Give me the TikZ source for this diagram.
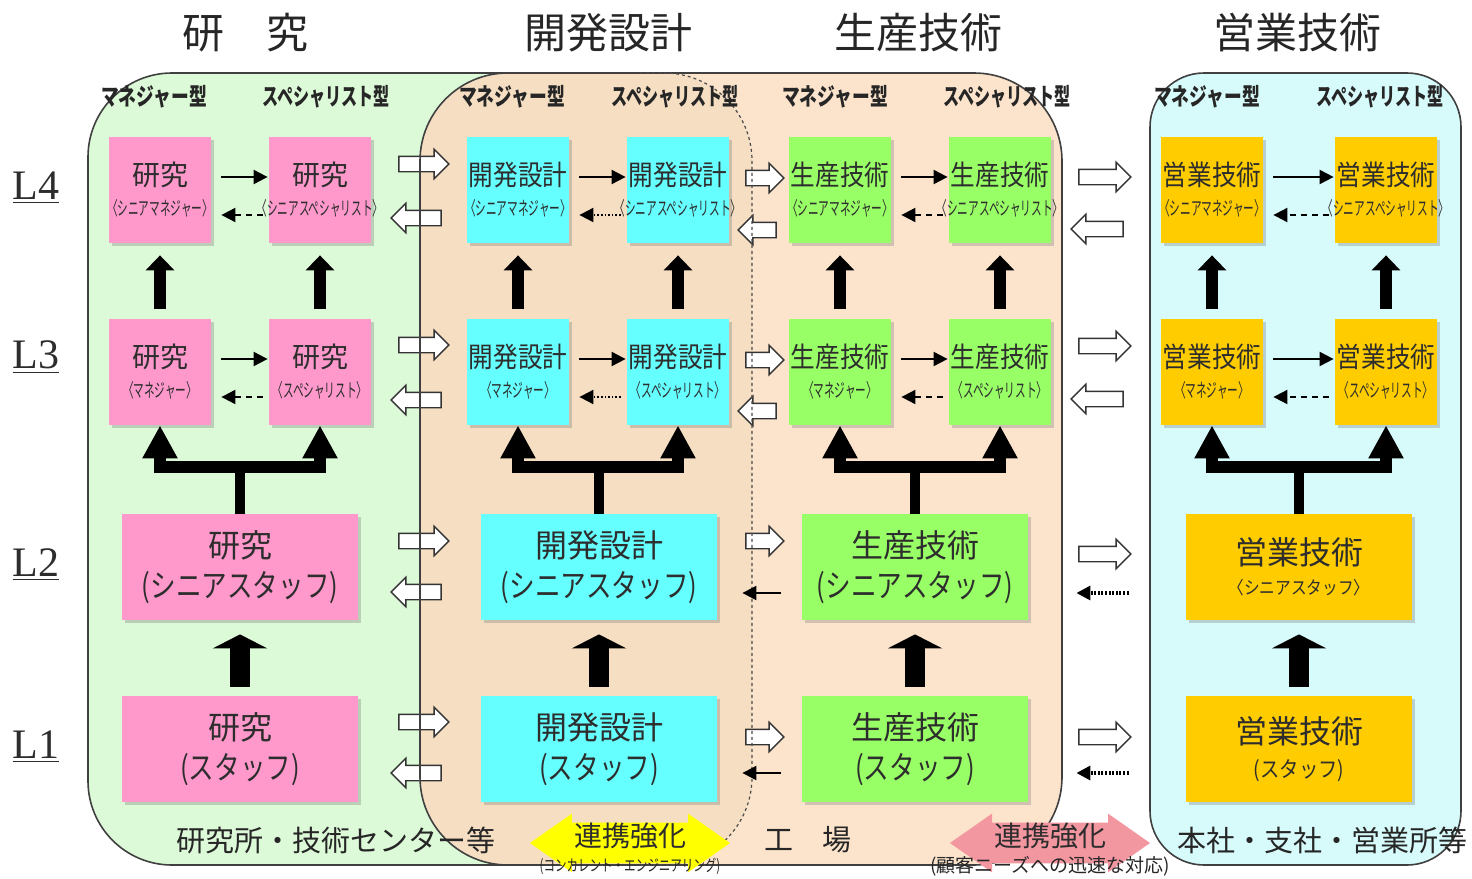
\documentclass[tikz,border=0pt]{standalone}
\usepackage{fontspec}
\usepackage{graphicx}
\newfontfamily\jp{Noto Sans CJK JP}
\newfontfamily\tms{Liberation Serif}
\usetikzlibrary{positioning,calc,arrows.meta,shapes.arrows,shadows}

\definecolor{kenbg}{RGB}{220,250,215}
\definecolor{kojobg}{RGB}{252,228,204}
\definecolor{kaibg}{RGB}{245,222,194}
\definecolor{eigbg}{RGB}{215,250,250}
\definecolor{kenfill}{RGB}{255,153,204}
\definecolor{kaifill}{RGB}{102,255,255}
\definecolor{seifill}{RGB}{153,255,102}
\definecolor{eifill}{RGB}{255,204,0}
\definecolor{txt}{RGB}{45,45,45}
\definecolor{coopy}{RGB}{255,255,0}
\definecolor{coopp}{RGB}{242,150,160}

\newcommand{\boxmain}[2]{{\fontsize{14pt}{15pt}\selectfont\scalebox{#1}[1]{#2}}}
\newcommand{\boxsub}[1]{\makebox[0pt]{\scalebox{0.56}[1]{#1}}}
\newcommand{\bigsub}[1]{\scalebox{0.8}[1]{#1}}

\tikzset{
  region/.style={draw=black!75,line width=0.8pt},
  devline/.style={draw=black!70,line width=0.6pt,dash pattern=on 1.5pt off 1.5pt},
  head/.style={font=\jp\fontsize{21pt}{21pt}\selectfont,text=black!85,inner sep=0pt},
  typelbl/.style={font=\jp\bfseries\fontsize{12pt}{12pt}\selectfont,text=black!85,inner sep=0pt},
  lvl/.style={font=\tms\fontsize{21pt}{21pt}\selectfont,text=txt,inner sep=0pt},
  smallbox/.style={minimum width=51pt,minimum height=53pt,inner sep=0pt,align=center,text=txt,
    font=\jp\fontsize{9.5pt}{15pt}\selectfont,
    drop shadow={shadow xshift=1.3pt,shadow yshift=-1.3pt,opacity=0.35}},
  bigbox/.style={smallbox,minimum width=118pt,font=\jp\fontsize{16pt}{20pt}\selectfont},
  thinarr/.style={line width=1pt,-{Triangle[width=7pt,length=7pt]}},
  backdash/.style={dash pattern=on 3pt off 2.5pt},
  backdot/.style={dash pattern=on 0.8pt off 1pt},
  dotarr/.style={line width=1.6pt,dash pattern=on 1pt off 0.8pt},
  uparr/.style={line width=6pt,-{Triangle[width=14pt,length=7.5pt]}},
  stem/.style={line width=5pt},
  fork/.style={line width=6pt,-{Triangle[width=16.5pt,length=16.5pt]}},
  blockarr/.style={line width=10pt,-{Triangle[width=27pt,length=7pt]}},
  hollow/.style={single arrow,draw=black!80,fill=white,line width=0.7pt,
    inner xsep=0pt,inner ysep=3.5pt,single arrow head extend=3.5pt},
  coop/.style={double arrow,draw=none,minimum height=100pt,inner xsep=0pt,inner ysep=10pt,
    double arrow head extend=4.5pt,double arrow tip angle=70},
  cooptxt/.style={font=\jp\fontsize{14pt}{14pt}\selectfont,text=txt,inner sep=0pt},
  coopsub/.style={font=\jp\fontsize{8pt}{8pt}\selectfont,text=black!85,inner sep=0pt},
  site/.style={font=\jp\fontsize{14.5pt}{14.5pt}\selectfont,text=black!85,inner sep=0pt}
}

\begin{document}
\begin{tikzpicture}[x=0.5pt,y=-0.5pt]
  \useasboundingbox (0,0) rectangle (1472,878);

  % sites: laboratory, factory (with design part), head office
  \draw[region,fill=kenbg,rounded corners=42pt] (88,73) rectangle (700,865);
  \fill[kojobg,rounded corners=44pt] (420,73) rectangle (1062,865);
  \fill[kaibg,rounded corners=44pt] (421,74) rectangle (752,864);

  % hollow arrows between the sites
  \foreach \x/\y/\len/\rot [count=\i] in {420/164/25pt/0,420/218/25pt/180,420/345/25pt/0,420/400/25pt/180,
      420/541/25pt/0,420/592/25pt/180,420/722/25pt/0,420/773/25pt/180,
      761/178/19pt/0,761/230/19pt/180,761/360/19pt/0,761/411/19pt/180,761/541/19pt/0,761/737/19pt/0,
      1101/177/26pt/0,1101/229/26pt/180,1101/346/26pt/0,1101/399/26pt/180,1101/554/26pt/0,1101/737/26pt/0}
    \node[hollow,minimum height=\len,shape border rotate=\rot] (h\i) at (\x,\y) {};

  \draw[region,rounded corners=44pt] (420,73) rectangle (1062,865);
  \draw[devline,rounded corners=44pt] (640,73) -- (752,73) -- (752,865) -- (640,865);
  \draw[region,fill=eigbg,rounded corners=27pt] (1150,73) rectangle (1461,865);

  % headings
  \foreach \x/\t [count=\i] in {245/研　究,608/開発設計,918/生産技術,1297/営業技術}
    \node[head] (head\i) at (\x,33) {\t};
  \foreach \x/\s/\t [count=\i] in {154/0.74/マネジャー型,326/0.67/スペシャリスト型,
      512/0.74/マネジャー型,675/0.67/スペシャリスト型,835/0.74/マネジャー型,1007/0.67/スペシャリスト型,
      1207/0.74/マネジャー型,1380/0.67/スペシャリスト型}
    \node[typelbl] (type\i) at (\x,97) {\scalebox{\s}[1]{\t}};
  \foreach \y/\t in {188/4,357/3,565/2,747/1}
    \node[lvl] (L\t) at (36,\y) {\underline{L\t}};

  % L4 / L3 boxes
  \foreach \col/\f/\m/\s/\w/\lbl in {k/kenfill/160/320/1/研究,d/kaifill/518/678/0.88/開発設計,
      p/seifill/840/1000/0.88/生産技術,e/eifill/1212/1386/0.88/営業技術} {
    \node[smallbox,fill=\f] (\col4m) at (\m,190) {\boxmain{\w}{\lbl}\\\boxsub{〈シニアマネジャー〉}};
    \node[smallbox,fill=\f] (\col4s) at (\s,190) {\boxmain{\w}{\lbl}\\\boxsub{〈シニアスペシャリスト〉}};
    \node[smallbox,fill=\f] (\col3m) at (\m,372) {\boxmain{\w}{\lbl}\\\boxsub{〈マネジャー〉}};
    \node[smallbox,fill=\f] (\col3s) at (\s,372) {\boxmain{\w}{\lbl}\\\boxsub{〈スペシャリスト〉}};
  }

  % L2 / L1 boxes
  \foreach \col/\f/\x/\w/\lbl in {k/kenfill/240/118pt/研究,d/kaifill/599/118pt/開発設計,p/seifill/915/113pt/生産技術} {
    \node[bigbox,fill=\f,minimum width=\w] (\col2) at (\x,567) {\lbl\\\bigsub{(シニアスタッフ)}};
    \node[bigbox,fill=\f,minimum width=\w] (\col1) at (\x,749) {\lbl\\\bigsub{(スタッフ)}};
  }
  \node[bigbox,fill=eifill,minimum width=113pt,font=\jp\fontsize{9pt}{15pt}\selectfont] (e2) at (1299,567)
    {{\fontsize{16pt}{15pt}\selectfont 営業技術}\\\scalebox{0.87}[1]{〈シニアスタッフ〉}};
  \node[bigbox,fill=eifill,minimum width=113pt,font=\jp\fontsize{11pt}{17pt}\selectfont] (e1) at (1299,749)
    {{\fontsize{16pt}{17pt}\selectfont 営業技術}\\\scalebox{0.88}[1]{(スタッフ)}};

  % career paths inside each function
  \foreach \col/\pat in {k/backdash,d/backdot,p/backdash,e/backdash} {
    \foreach \row in {4,3} {
      \draw[thinarr] ($(\col\row m.east)+(10,-13)$) -- ($(\col\row s.west)+(-1,-13)$);
      \draw[thinarr,style/.expanded=\pat] ($(\col\row s.west)+(-6,25)$) -- ($(\col\row m.east)+(10,25)$);
    }
    \draw[uparr] ($(\col3m.north)+(0,-10)$) -- ($(\col4m.south)+(0,12)$);
    \draw[uparr] ($(\col3s.north)+(0,-10)$) -- ($(\col4s.south)+(0,12)$);
    \coordinate (\col j) at ($(\col2.north)+(0,-47)$);
    \draw[stem] (\col2.north) -- (\col j);
    \draw[fork] (\col j) -| (\col3m.south);
    \draw[fork] (\col j) -| (\col3s.south);
    \draw[blockarr] ($(\col1.north)+(0,-9)$) -- ($(\col2.south)+(0,14)$);
  }

  % feedback between sites at L2 / L1
  \foreach \row/\dy in {2/26,1/24} {
    \draw[thinarr] ($(p\row.west)+(-21,\dy)$) -- ($(d\row.east)+(25,\dy)$);
    \draw[thinarr,dotarr] ($(e\row.west)+(-57,\dy)$) -- ($(p\row.east)+(48,\dy)$);
  }

  % site names and cooperation arrows
  \node[site] (labo) at (336,840) {研究所・技術センター等};
  \node[site] (kojo) at (808,840) {工　場};
  \node[site] (honsha) at (1322,840) {本社・支社・営業所等};

  \node[coop,fill=coopy] (cdev) at (630,843) {};
  \node[cooptxt] (cdevt) at (630,836) {連携強化};
  \node[coopsub] (cdevs) at (630,866) {\scalebox{0.72}[1]{(コンカレント・エンジニアリング)}};
  \node[coop,fill=coopp] (csal) at (1050,843) {};
  \node[cooptxt] (csalt) at (1050,836) {連携強化};
  \node[coopsub,font=\jp\fontsize{9.5pt}{9.5pt}\selectfont] (csals) at (1050,866) {(顧客ニーズへの迅速な対応)};
\end{tikzpicture}
\end{document}
